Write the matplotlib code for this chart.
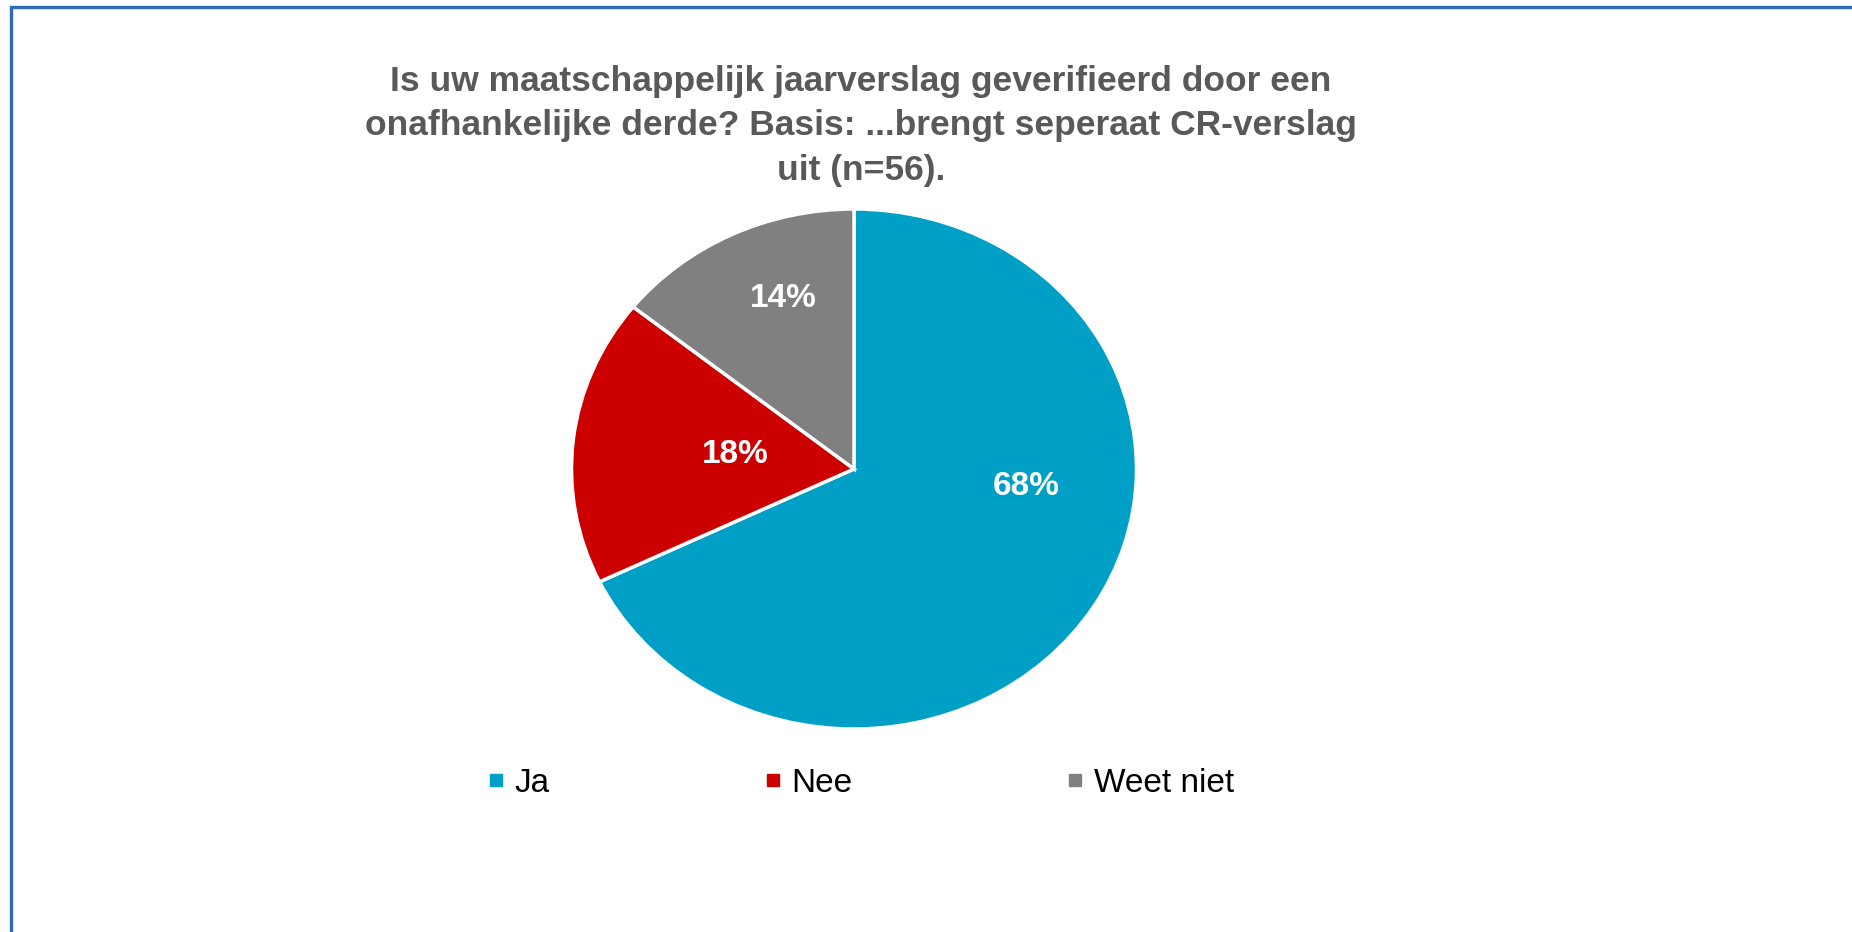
import matplotlib
matplotlib.use("Agg")
import matplotlib.pyplot as plt
from matplotlib.lines import Line2D
from matplotlib.patches import Rectangle

# ---- data ----
categories = ["Ja", "Nee", "Weet niet"]
counts = [38, 10, 8]            # n = 56
pct_labels = ["68%", "18%", "14%"]
colors = ["#00A0C6", "#CC0000", "#808080"]
title = ("Is uw maatschappelijk jaarverslag geverifieerd door een\n"
         "onafhankelijke derde? Basis: ...brengt seperaat CR-verslag\n"
         "uit (n=56).")

W, H = 1852, 932
plt.rcParams['font.family'] = ['Liberation Sans', 'DejaVu Sans']
fig = plt.figure(figsize=(W / 100, H / 100), dpi=100)
fig.patch.set_facecolor("white")

# frame (only top and left edges visible)
fig.patches.append(Rectangle((10.5 / W, -0.1), 1.2, 1.1 - 7 / H,
                             transform=fig.transFigure, fill=False,
                             edgecolor="#2E6BB5", linewidth=2.4, zorder=0))

# pie axes (ellipse in pixel space)
cx, cy, rx, ry = 854, 469, 282.5, 260
ax = fig.add_axes([(cx - rx) / W, 1 - (cy + ry) / H, 2 * rx / W, 2 * ry / H])
wedges, _ = ax.pie(counts, colors=colors, startangle=90, counterclock=False,
                   radius=1.0,
                   wedgeprops=dict(edgecolor="white", linewidth=2.5))
for w in wedges:
    w.set_clip_on(False)
ax.set_aspect("auto")
ax.set_xlim(-1, 1)
ax.set_ylim(-1, 1)
ax.axis("off")

label_pos = [(0.608, -0.066), (-0.421, 0.057), (-0.249, 0.657)]
for lab, (x, y) in zip(pct_labels, label_pos):
    ax.text(x, y, lab, ha="center", va="center", color="white",
            fontsize=24, fontweight="bold")

# title
fig.text(861 / W, 1 - 126 / H, title, ha="center", va="center",
         multialignment="center", fontsize=25.5, fontweight="bold",
         color="#595959", linespacing=1.45)

# legend
handles = [Line2D([0], [0], marker="s", linestyle="none", markersize=9,
                  markerfacecolor=c, markeredgecolor=c) for c in colors]
fig.legend(handles, categories, loc="center", ncol=3,
           bbox_to_anchor=(862 / W, 1 - 783 / H), frameon=False,
           fontsize=24, handlelength=0.375, handletextpad=0.375,
           columnspacing=6.5, borderaxespad=0, borderpad=0)

fig.savefig("out.png", dpi=100, facecolor="white")
